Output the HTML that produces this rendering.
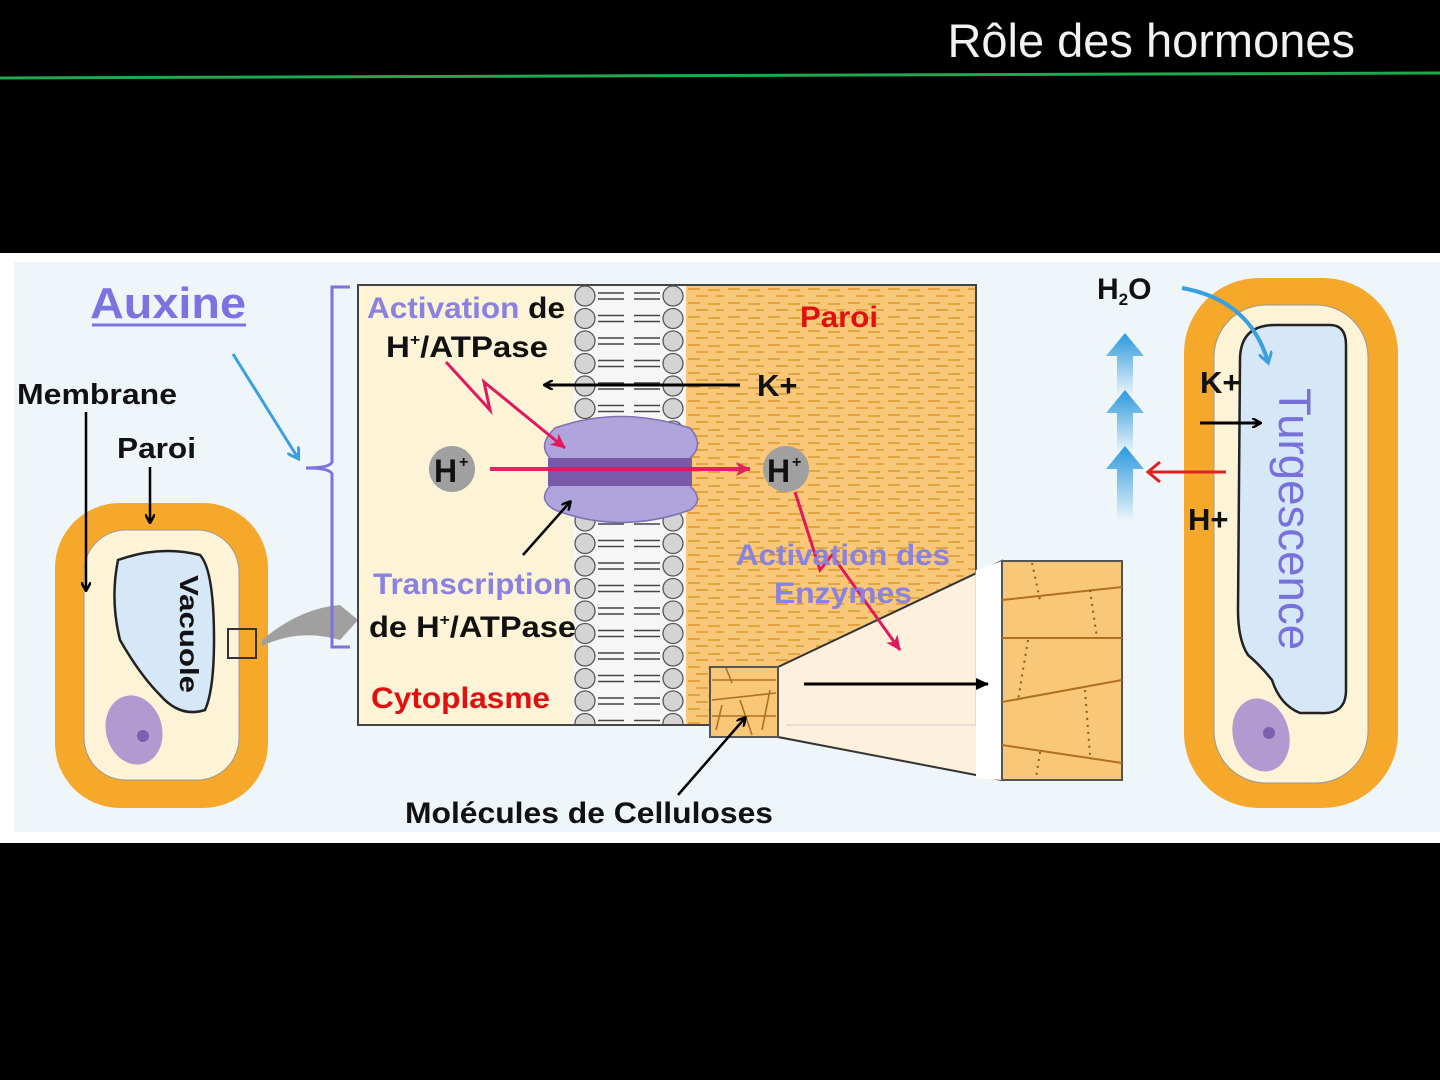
<!DOCTYPE html>
<html><head><meta charset="utf-8"><style>
html,body{margin:0;padding:0;background:#000;width:1440px;height:1080px;overflow:hidden}
svg{display:block}
text{font-family:"Liberation Sans",Arial,sans-serif}
</style></head><body>
<svg width="1440" height="1080" viewBox="0 0 1440 1080" xmlns="http://www.w3.org/2000/svg">
<defs>
<pattern id="lipL" x="574" y="285" width="22" height="22.5" patternUnits="userSpaceOnUse">
<circle cx="11" cy="11" r="10" fill="#d4d4d4" stroke="#555" stroke-width="1.3"/>
</pattern>
<pattern id="lipR" x="662" y="285" width="22" height="22.5" patternUnits="userSpaceOnUse">
<circle cx="11" cy="11" r="10" fill="#d4d4d4" stroke="#555" stroke-width="1.3"/>
</pattern>
<pattern id="tails" x="596" y="285" width="66" height="22.5" patternUnits="userSpaceOnUse">
<path d="M2 8 h26 M2 14 h26 M38 8 h26 M38 14 h26" stroke="#444" stroke-width="1.6" fill="none"/>
</pattern>
<pattern id="wall" x="686" y="285" width="40" height="14" patternUnits="userSpaceOnUse">
<path d="M2 4 h12 M22 5 h12 M10 11 h12 M30 11 h8" stroke="#d9982e" stroke-width="1.5"/>
</pattern>
<marker id="ak" markerWidth="10" markerHeight="10" refX="8" refY="5" orient="auto" markerUnits="userSpaceOnUse"><path d="M0 0 L9 5 L0 10" fill="none" stroke="#000" stroke-width="2.5"/></marker>
<marker id="akf" markerWidth="14" markerHeight="12" refX="12" refY="6" orient="auto" markerUnits="userSpaceOnUse"><path d="M0 0 L13 6 L0 12 z" fill="#000"/></marker>
<marker id="ap" markerWidth="16" markerHeight="14" refX="14" refY="7" orient="auto" markerUnits="userSpaceOnUse"><path d="M0 0 L15 7 L0 14 L4 7z" fill="#e0185e"/></marker>
<marker id="ab" markerWidth="14" markerHeight="14" refX="10" refY="7" orient="auto" markerUnits="userSpaceOnUse"><path d="M0 0 L11 7 L0 14" fill="none" stroke="#3aa0e0" stroke-width="3"/></marker>
<linearGradient id="bl" x1="0" y1="0" x2="0" y2="1"><stop offset="0" stop-color="#2a98dc"/><stop offset="1" stop-color="#eaf4fa"/></linearGradient>
</defs>

<!-- header -->
<text x="1355" y="57" font-size="47" fill="#f2f2f2" text-anchor="end">Rôle des hormones</text>
<path d="M0 78 L1440 73" stroke="#1fa850" stroke-width="3"/>

<!-- panel -->
<rect x="0" y="253" width="1440" height="590" fill="#fff"/>
<rect x="14" y="262" width="1426" height="570" fill="#eef6f9"/>

<!-- left cell -->
<rect x="55" y="503" width="213" height="305" rx="65" fill="#f5a82a"/>
<rect x="84" y="530" width="155" height="250" rx="42" fill="#fdf3d6" stroke="#999" stroke-width="1"/>
<path d="M118 560 Q110 600 120 640 Q140 675 160 695 Q180 718 205 710 Q214 690 214 640 Q214 570 200 555 Q160 545 118 560z" fill="#d6e8f8" stroke="#222" stroke-width="2.5"/>
<ellipse cx="134" cy="730" rx="28" ry="35" fill="#b09ad0" transform="rotate(-15 134 730)"/>
<circle cx="143" cy="736" r="6" fill="#7b5fb0"/>
<text transform="translate(180 575) rotate(90)" font-size="26" font-weight="bold" fill="#111" textLength="118" lengthAdjust="spacingAndGlyphs">Vacuole</text>
<rect x="228" y="629" width="28" height="29" fill="none" stroke="#333" stroke-width="2"/>
<path d="M262 640 Q300 608 340 605 L358 620 L340 640 Q300 628 262 646z" fill="#a0a0a0"/>

<text x="17" y="404" font-size="29" font-weight="bold" fill="#111" textLength="160" lengthAdjust="spacingAndGlyphs">Membrane</text>
<text x="117" y="458" font-size="29" font-weight="bold" fill="#111" textLength="79" lengthAdjust="spacingAndGlyphs">Paroi</text>
<path d="M86 412 V590" stroke="#000" stroke-width="2.5" marker-end="url(#ak)"/>
<path d="M150 467 V522" stroke="#000" stroke-width="2.5" marker-end="url(#ak)"/>
<text x="90" y="318" font-size="44" font-weight="bold" fill="#7b73e0" textLength="156" lengthAdjust="spacingAndGlyphs">Auxine</text>
<path d="M92 325 H246" stroke="#7b73e0" stroke-width="3"/>
<path d="M233 354 L298 458" stroke="#3aa0e0" stroke-width="3" marker-end="url(#ab)"/>
<path d="M350 287 H332 V462 Q330 468 306 468 Q330 468 332 474 V647 H350" fill="none" stroke="#7b73e0" stroke-width="3"/>

<!-- main box -->
<rect x="358" y="285" width="618" height="440" fill="#fdf3d6" stroke="#444" stroke-width="2"/>
<rect x="686" y="286" width="289" height="438" fill="#f8c878"/>
<rect x="686" y="286" width="289" height="438" fill="url(#wall)"/>
<rect x="574" y="286" width="112" height="438" fill="#f6f6f6"/>
<rect x="596" y="286" width="66" height="438" fill="url(#tails)"/>
<rect x="574" y="286" width="22" height="438" fill="url(#lipL)"/>
<rect x="662" y="286" width="22" height="438" fill="url(#lipR)"/>

<!-- funnel -->
<path d="M778 667 L1002 561 L1002 780 L778 737z" fill="#fdf0dc" stroke="#333" stroke-width="2"/>
<path d="M976 570 V725 H786" fill="none" stroke="#ccc" stroke-width="1"/>
<path d="M1002 561 L1002 780 L976 778 L976 570z" fill="#fff"/>
<rect x="1002" y="561" width="120" height="219" fill="#f8c878" stroke="#555" stroke-width="2"/>
<path d="M1002 600 L1122 587 M1002 638 L1122 638 M1002 702 L1122 680 M1002 745 L1122 763" stroke="#b07020" stroke-width="2"/>
<path d="M1032 563 L1040 600 M1090 590 L1097 638 M1028 640 L1018 700 M1085 690 L1090 755 M1040 752 L1036 778" stroke="#8a5a20" stroke-width="2" stroke-dasharray="2 5"/>
<rect x="710" y="667" width="68" height="70" fill="#f8c878" stroke="#555" stroke-width="2"/>
<path d="M712 680 H776 M712 700 L776 693 M712 716 H776 M726 668 L732 683 M770 690 L762 730 M722 705 L716 730 M740 700 L752 735" stroke="#b07020" stroke-width="1.6"/>
<path d="M804 684 H988" stroke="#000" stroke-width="3" marker-end="url(#akf)"/>

<!-- protein -->
<path d="M555 428 Q620 405 690 428 Q705 445 690 458 L690 486 Q705 500 690 510 Q620 535 555 510 Q537 500 550 486 L550 458 Q537 445 555 428z" fill="#b0a4dc" stroke="#8070b0" stroke-width="1.5"/>
<rect x="548" y="458" width="144" height="28" fill="#7a58aa"/>
<path d="M490 469 H750" stroke="#e0185e" stroke-width="4" marker-end="url(#ap)" opacity="0.95"/>
<circle cx="452" cy="469" r="23" fill="#a0a0a0"/>
<text x="434" y="482" font-size="32" font-weight="bold" fill="#111">H</text><text x="459" y="467" font-size="16" font-weight="bold" fill="#111">+</text>
<circle cx="786" cy="469" r="23" fill="#a0a0a0"/>
<text x="767" y="482" font-size="32" font-weight="bold" fill="#111">H</text><text x="792" y="467" font-size="16" font-weight="bold" fill="#111">+</text>

<!-- arrows in box -->
<path d="M446 362 L490 410 L484 382 L565 448" fill="none" stroke="#e0185e" stroke-width="3" marker-end="url(#ap)"/>
<path d="M795 492 L820 570 L832 555 L900 650" fill="none" stroke="#e0185e" stroke-width="3" marker-end="url(#ap)"/>
<path d="M740 385 H545" stroke="#000" stroke-width="3" marker-end="url(#ak)"/>
<path d="M523 555 L570 502" stroke="#000" stroke-width="2.5" marker-end="url(#ak)"/>
<path d="M678 795 L745 718" stroke="#000" stroke-width="2.5" marker-end="url(#ak)"/>

<text x="367" y="318" font-size="30" font-weight="bold" fill="#8a82e0" textLength="198" lengthAdjust="spacingAndGlyphs">Activation <tspan fill="#111">de</tspan></text>
<text x="386" y="357" font-size="30" font-weight="bold" fill="#111" textLength="162" lengthAdjust="spacingAndGlyphs">H<tspan font-size="16" dy="-12">+</tspan><tspan dy="12">/ATPase</tspan></text>
<text x="757" y="396" font-size="31" font-weight="bold" fill="#111">K+</text>
<text x="800" y="327" font-size="30" font-weight="bold" fill="#e01010" textLength="78" lengthAdjust="spacingAndGlyphs">Paroi</text>
<text x="373" y="594" font-size="30" font-weight="bold" fill="#8a82e0" textLength="199" lengthAdjust="spacingAndGlyphs">Transcription</text>
<text x="369" y="637" font-size="30" font-weight="bold" fill="#111" textLength="207" lengthAdjust="spacingAndGlyphs">de H<tspan font-size="16" dy="-12">+</tspan><tspan dy="12">/ATPase</tspan></text>
<text x="371" y="708" font-size="30" font-weight="bold" fill="#e01010" textLength="179" lengthAdjust="spacingAndGlyphs">Cytoplasme</text>
<text x="736" y="565" font-size="30" font-weight="bold" fill="#8a82e0" textLength="214" lengthAdjust="spacingAndGlyphs">Activation des</text>
<text x="774" y="603" font-size="30" font-weight="bold" fill="#8a82e0" textLength="138" lengthAdjust="spacingAndGlyphs">Enzymes</text>
<text x="405" y="823" font-size="30" font-weight="bold" fill="#111" textLength="368" lengthAdjust="spacingAndGlyphs">Molécules de Celluloses</text>

<!-- right cell -->
<rect x="1184" y="278" width="214" height="530" rx="75" fill="#f5a82a"/>
<rect x="1214" y="305" width="154" height="478" rx="52" fill="#fdf3d6" stroke="#999" stroke-width="1"/>
<path d="M1240 360 Q1240 325 1275 325 L1330 325 Q1346 325 1346 345 L1346 690 Q1346 715 1320 713 L1300 713 Q1280 705 1272 680 Q1260 665 1248 655 Q1238 640 1238 610z" fill="#d6e8f8" stroke="#222" stroke-width="2.5"/>
<ellipse cx="1261" cy="735" rx="28" ry="37" fill="#b09ad0" transform="rotate(-15 1261 735)"/>
<circle cx="1269" cy="733" r="6" fill="#7b5fb0"/>
<text transform="translate(1279 388) rotate(90)" font-size="45" fill="#7a70dc" textLength="262" lengthAdjust="spacingAndGlyphs">Turgescence</text>
<path d="M1182 288 Q1250 300 1268 362" fill="none" stroke="#3aa0e0" stroke-width="4" marker-end="url(#ab)"/>
<text x="1097" y="299" font-size="30" font-weight="bold" fill="#111">H<tspan font-size="17" dy="6">2</tspan><tspan dy="-6">O</tspan></text>
<text x="1200" y="393" font-size="31" font-weight="bold" fill="#111">K+</text>
<path d="M1200 423 H1260" stroke="#000" stroke-width="3" marker-end="url(#ak)"/>
<path d="M1226 472 H1149 M1160 462 L1148 472 L1160 482" fill="none" stroke="#e02020" stroke-width="3"/>
<text x="1188" y="530" font-size="31" font-weight="bold" fill="#111">H+</text>
<g fill="url(#bl)">
<path d="M1106 356 L1125 333 L1144 356 L1133 356 L1133 395 L1117 395 L1117 356z"/>
<path d="M1106 413 L1125 390 L1144 413 L1133 413 L1133 452 L1117 452 L1117 413z"/>
<path d="M1106 469 L1125 446 L1144 469 L1133 469 L1133 520 L1117 520 L1117 469z"/>
</g>
</svg>
</body></html>
